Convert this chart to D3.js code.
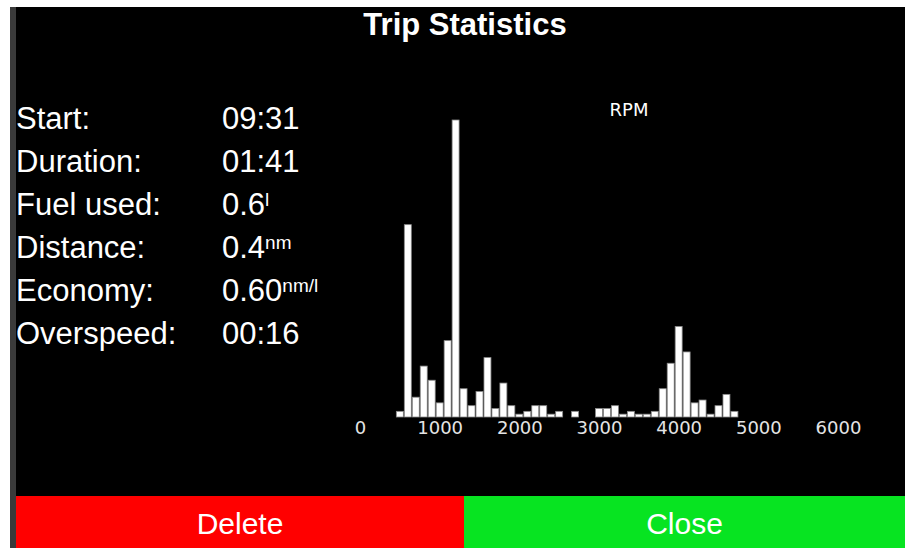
<!DOCTYPE html>
<html>
<head>
<meta charset="utf-8">
<script src="https://cdn.jsdelivr.net/npm/d3@7"></script>
<style>
    body { margin: 0; background: #fff; }
    svg { display: block; }
</style>
</head>
<body>
<script>
var statLabels = ["Start:", "Duration:", "Fuel used:", "Distance:", "Economy:", "Overspeed:"];
var statValues = ["09:31", "01:41", "0.6", "0.4", "0.60", "00:16"];
var statUnits = ["", "", "l", "nm", "nm/l", ""];

// rpm histogram, 100 rpm bins (bin centre -> count)
var rpmBins = [500, 600, 700, 800, 900, 1000, 1100, 1200, 1300, 1400,
    1500, 1600, 1700, 1800, 1900, 2000, 2100, 2200, 2300, 2400,
    2500, 2600, 2700, 2800, 2900, 3000, 3100, 3200, 3300, 3400,
    3500, 3600, 3700, 3800, 3900, 4000, 4100, 4200, 4300, 4400,
    4500, 4600, 4700];
var rpmCounts = [2, 68, 7, 18, 13, 5, 27, 105, 10, 4,
    9, 21, 3, 12, 4, 1, 2, 4, 4, 1,
    2, 0, 2, 0, 0, 3, 3, 4, 1, 2,
    1, 1, 2, 10, 19, 32, 23, 5, 6, 1,
    4, 8, 2];
var rpmTicks = [0, 1000, 2000, 3000, 4000, 5000, 6000];

var buttonLabels = ["Delete", "Close"];
var buttonColors = ["#ff0000", "#07e421"];

function tripScreen() {
    var _screen = {};
    var _width = 905, _height = 548,
        _svg;

    _screen.render = function () {
        _svg = d3.select("body").append("svg")
            .attr("width", _width)
            .attr("height", _height);

        renderFrame();
        renderStats();
        renderHistogram();
        renderButtons();
    };

    function renderFrame() {
        _svg.append("rect")
            .attr("x", 0).attr("y", 0)
            .attr("width", _width).attr("height", _height)
            .style("fill", "#fff");
        _svg.append("rect")
            .attr("x", 10).attr("y", 7)
            .attr("width", 6).attr("height", _height - 7)
            .style("fill", "#3a3a3a");
        _svg.append("rect")
            .attr("x", 16).attr("y", 7)
            .attr("width", _width - 16).attr("height", 489)
            .style("fill", "#000");

        _svg.append("text")
            .attr("x", 465).attr("y", 35)
            .attr("text-anchor", "middle")
            .style("font-family", "'Liberation Sans', Arial, sans-serif")
            .style("font-weight", "bold")
            .style("font-size", "31px")
            .style("fill", "#fff")
            .text("Trip Statistics");
    }

    function renderStats() {
        var g = _svg.append("g")
            .style("font-family", "'Liberation Sans', Arial, sans-serif")
            .style("font-size", "31px")
            .style("fill", "#fff");

        g.selectAll("text.label").data(statLabels)
            .enter().append("text")
            .attr("class", "label")
            .attr("x", 16)
            .attr("y", function (d, i) { return 129 + i * 43; })
            .text(function (d) { return d; });

        var vals = g.selectAll("text.value").data(statValues)
            .enter().append("text")
            .attr("class", "value")
            .attr("x", 222)
            .attr("y", function (d, i) { return 129 + i * 43; });
        vals.append("tspan")
            .text(function (d) { return d; });
        vals.append("tspan")
            .attr("dy", -9)
            .style("font-size", "19px")
            .text(function (d, i) { return statUnits[i]; });
    }

    function renderHistogram() {
        var x = d3.scaleLinear().domain([0, 6000]).range([360, 838]);
        var y = d3.scaleLinear().domain([0, 105]).range([417, 120]);
        var barW = x(100) - x(0) - 1;

        var data = rpmBins.map(function (b, i) { return {rpm: b, count: rpmCounts[i]}; })
            .filter(function (d) { return d.count > 0; });

        _svg.append("g").attr("class", "bars")
            .selectAll("rect").data(data)
            .enter().append("rect")
            .attr("x", function (d) { return x(d.rpm) - barW / 2; })
            .attr("y", function (d) { return y(d.count); })
            .attr("width", barW)
            .attr("height", function (d) { return y(0) - y(d.count); })
            .style("fill", "#fff")
            .style("stroke", "#8a8a8a")
            .style("stroke-width", 0.8);

        var axis = _svg.append("g")
            .attr("transform", "translate(0," + 421 + ")")
            .call(d3.axisBottom(x).tickValues(rpmTicks).tickFormat(d3.format("d"))
                .tickSize(0).tickPadding(0));
        axis.select(".domain").remove();
        axis.selectAll("text")
            .style("font-family", "'DejaVu Sans', sans-serif")
            .style("font-size", "18px")
            .style("fill", "#e4e4e4");

        _svg.append("text")
            .attr("x", 629).attr("y", 116)
            .attr("text-anchor", "middle")
            .style("font-family", "'DejaVu Sans', sans-serif")
            .style("font-size", "18px")
            .style("fill", "#fff")
            .text("RPM");
    }

    function renderButtons() {
        var bx = d3.scaleOrdinal().domain(buttonLabels).range([16, 464]);
        var bw = d3.scaleOrdinal().domain(buttonLabels).range([448, 441]);

        var g = _svg.selectAll("g.button").data(buttonLabels)
            .enter().append("g")
            .attr("class", "button")
            .attr("transform", function (d) { return "translate(" + bx(d) + ",496)"; });
        g.append("rect")
            .attr("width", function (d) { return bw(d); })
            .attr("height", 52)
            .style("fill", function (d, i) { return buttonColors[i]; });
        g.append("text")
            .attr("x", function (d) { return bw(d) / 2; })
            .attr("y", 38)
            .attr("text-anchor", "middle")
            .style("font-family", "'Liberation Sans', Arial, sans-serif")
            .style("font-size", "30px")
            .style("fill", "#fff")
            .text(function (d) { return d; });
    }

    return _screen;
}

tripScreen().render();
</script>
</body>
</html>
